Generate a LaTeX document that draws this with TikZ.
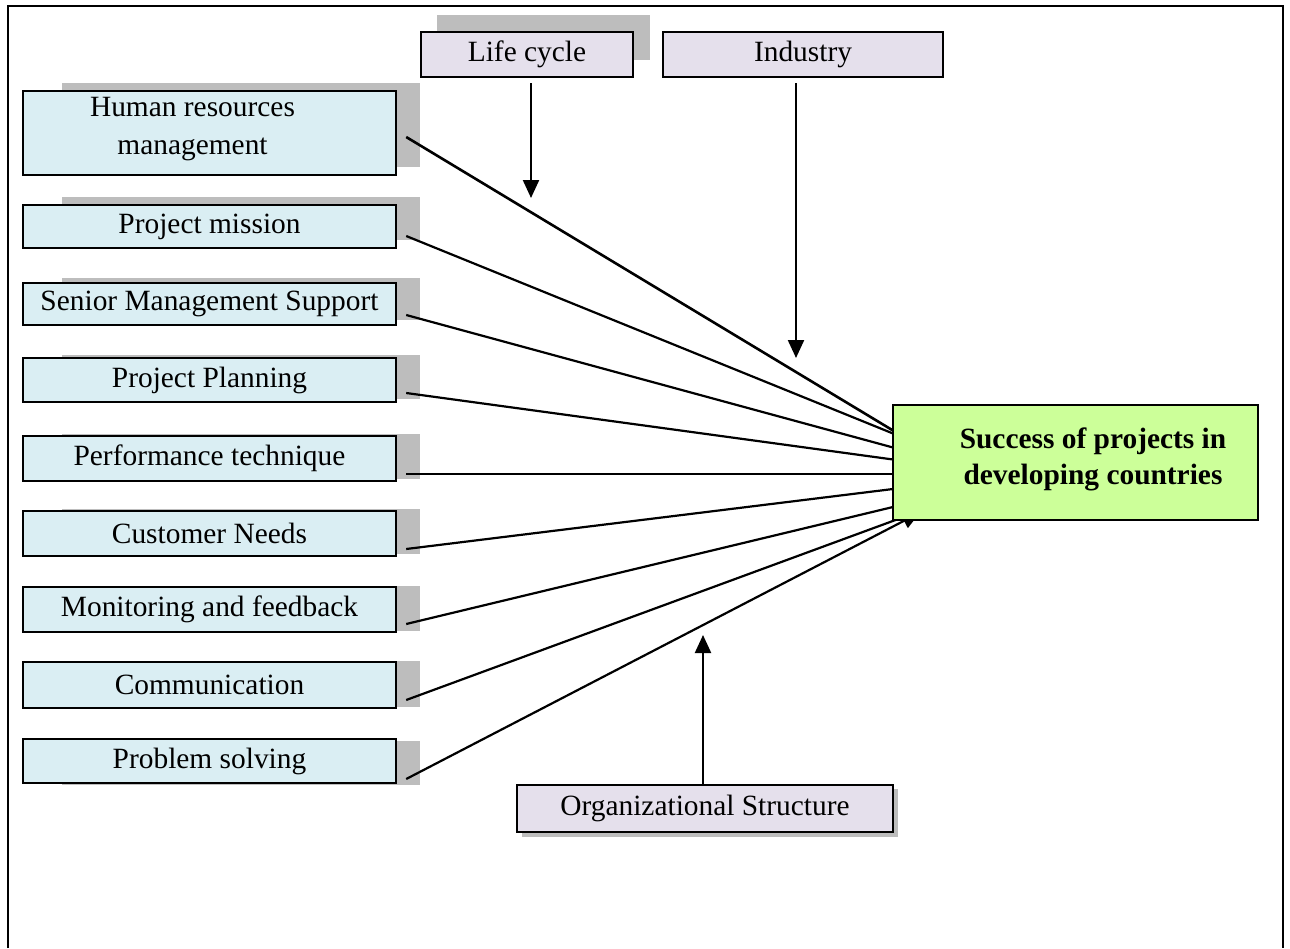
\documentclass[tikz,border=0pt]{standalone}
\usepackage{fontspec}
\setmainfont{Liberation Serif}
\usetikzlibrary{arrows.meta,calc}
\definecolor{lblue}{HTML}{DAEEF3}
\definecolor{lav}{HTML}{E5E0EC}
\definecolor{lgreen}{HTML}{CCFF99}
\definecolor{shadowgray}{HTML}{BDBDBD}
\tikzset{
  box/.style={draw=black, line width=1.2pt, inner sep=0pt, font=\fontsize{14.7}{19}\selectfont, align=center},
  lbox/.style={box, fill=lblue, minimum width=186.5pt, minimum height=22pt},
  pbox/.style={box, fill=lav, minimum height=22.5pt},
  txt/.style={inner sep=0pt, font=\fontsize{14.7}{19}\selectfont, align=center},
  shadowbox/.style={fill=shadowgray, draw=none},
  conn/.style={line width=1.1pt},
  arr/.style={conn, -{Triangle[width=8pt,length=9pt]}},
}
\begin{document}
\begin{tikzpicture}[x=0.5pt,y=-0.5pt]
\useasboundingbox (0,0) rectangle (1290,948);
% frame
\draw[line width=1.1pt] (8,948) -- (8,6) -- (1283,6) -- (1283,948);
% shadows
\fill[shadowbox] (62,83) rectangle (420,167);
\fill[shadowbox] (62,197) rectangle (420,240);
\fill[shadowbox] (62,278) rectangle (420,320);
\fill[shadowbox] (62,355) rectangle (420,399);
\fill[shadowbox] (62,434) rectangle (420,479);
\fill[shadowbox] (62,509) rectangle (420,554);
\fill[shadowbox] (62,586) rectangle (420,631);
\fill[shadowbox] (62,661) rectangle (420,707);
\fill[shadowbox] (62,741) rectangle (420,785);
\fill[shadowbox] (437,15) rectangle (650,60);
\fill[shadowbox] (522,789) rectangle (898,837);
% left boxes
\node[lbox, minimum height=42pt] (hr) at (209.5,133) {};
\node[txt] (hrt) at (192.5,129) {Human resources\\management};
\node[lbox, minimum height=21.5pt] (pm) at (209.5,226.5) {Project mission};
\node[lbox, minimum height=21pt] (sms) at (209.5,304) {Senior Management Support};
\node[lbox] (pp) at (209.5,380) {Project Planning};
\node[lbox, minimum height=22.5pt] (pt) at (209.5,458.5) {Performance technique};
\node[lbox, minimum height=22.5pt] (cn) at (209.5,533.5) {Customer Needs};
\node[lbox, minimum height=22.5pt] (mf) at (209.5,609.5) {Monitoring and feedback};
\node[lbox, minimum height=23pt] (cm) at (209.5,685) {Communication};
\node[lbox] (ps) at (209.5,761) {Problem solving};
% top and bottom boxes
\node[pbox, minimum width=106pt] (lc) at (527,54.5) {Life cycle};
\node[pbox, minimum width=140pt] (ind) at (803,54.5) {Industry};
\node[pbox, minimum width=188pt, minimum height=23.5pt] (org) at (705,808.5) {Organizational Structure};
% coordinates for arrow tips
\coordinate (lctip) at (531,198);
\coordinate (indtip) at (796,358);
\coordinate (orgtip) at (703,635);
\coordinate (succ-in) at (893,462.5);
% connectors to target
\draw[conn, line width=1.3pt] ($(hr.east)+(9,4)$) -- ($(succ-in)+(0,-32)$);
\draw[conn] ($(pm.east)+(9,9.5)$) -- ($(succ-in)+(0,-29)$);
\draw[conn] ($(sms.east)+(9,11)$) -- ($(succ-in)+(0,-15)$);
\draw[conn] ($(pp.east)+(9,13)$) -- ($(succ-in)+(0,-3)$);
\draw[conn] ($(pt.east)+(9,15.5)$) -- ($(succ-in)+(0,11.5)$);
\draw[conn] ($(cn.east)+(9,15.5)$) -- ($(succ-in)+(0,26.5)$);
\draw[conn] ($(mf.east)+(9,14.5)$) -- ($(succ-in)+(0,44.5)$);
\draw[conn] ($(cm.east)+(9,15)$) -- ($(succ-in)+(12,54)$);
\draw[arr] ($(ps.east)+(9,18)$) -- ($(succ-in)+(27,50)$);
% vertical arrows
\draw[arr] ($(lc.south)+(4,5)$) -- (lctip);
\draw[arr] ($(ind.south)+(-7,5)$) -- (indtip);
\draw[arr] ($(org.north)+(-2,0)$) -- (orgtip);
% target
\node[box, fill=lgreen, minimum width=182.5pt, minimum height=57.5pt] (succ) at (1075.5,462.5) {};
\node[txt, font=\fontsize{14.7}{18}\selectfont\bfseries] (succt) at (1093,459) {Success of projects in\\developing countries};
\end{tikzpicture}
\end{document}
